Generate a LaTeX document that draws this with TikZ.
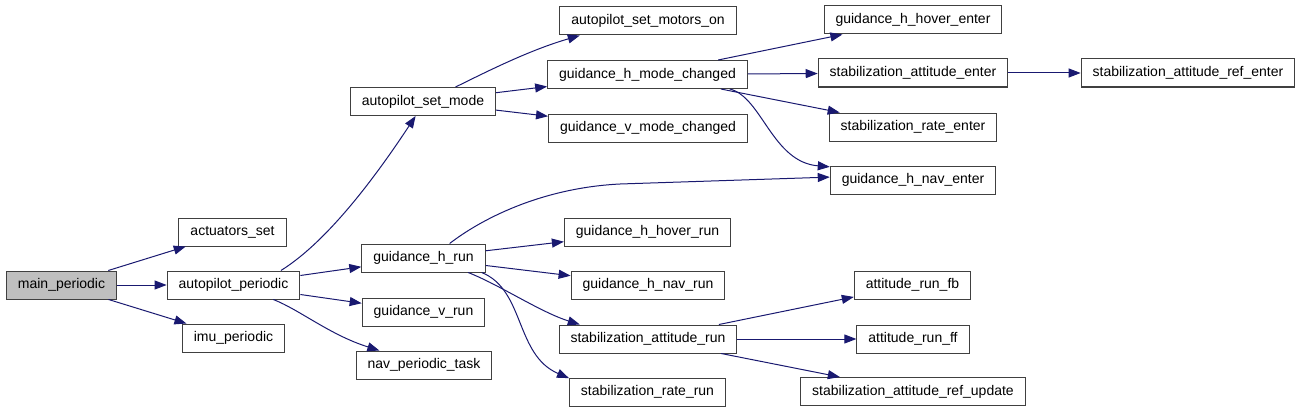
\documentclass[tikz,border=0pt]{standalone}
\usepackage{fontspec}
\setmainfont{Liberation Sans}
\usepackage{tikz}
\usetikzlibrary{arrows.meta}
\definecolor{callblue}{HTML}{191970}
\definecolor{boxline}{HTML}{404040}
\definecolor{rootfill}{HTML}{BFBFBF}

\begin{document}
\begin{tikzpicture}[
  x=1pt, y=-1pt,
  every node/.style={font=\fontsize{14}{16}\selectfont},
  fn/.style={draw=boxline, fill=white, line width=1pt, rectangle,
             minimum height=28pt, inner xsep=11.5pt, inner ysep=0pt},
  root/.style={fn, fill=rootfill},
  call/.style={-{Triangle[length=12pt, width=9pt]}, line width=1pt, color=callblue}
]
  \useasboundingbox (0,0) rectangle (1304,412);

  \node[root] (main)       at (61.5,285) {main\_periodic};
  \node[fn] (actset)       at (232.5,232) {actuators\_set};
  \node[fn] (autoper)      at (233.5,285) {autopilot\_periodic};
  \node[fn] (imuper)       at (233.5,338) {imu\_periodic};
  \node[fn] (setmode)      at (423,101.5) {autopilot\_set\_mode};
  \node[fn] (hrun)         at (423.5,258) {guidance\_h\_run};
  \node[fn] (vrun)         at (423.5,312) {guidance\_v\_run};
  \node[fn] (navtask)      at (424,365)   {nav\_periodic\_task};
  \node[fn] (motorson)     at (648,21)    {autopilot\_set\_motors\_on};
  \node[fn] (hmode)        at (647.5,74.5) {guidance\_h\_mode\_changed};
  \node[fn] (vmode)        at (648,128)   {guidance\_v\_mode\_changed};
  \node[fn] (hoverrun)     at (647.5,232) {guidance\_h\_hover\_run};
  \node[fn] (hnavrun)      at (648,285)   {guidance\_h\_nav\_run};
  \node[fn] (stabattrun)   at (648,339)   {stabilization\_attitude\_run};
  \node[fn] (raterun)      at (647.5,392) {stabilization\_rate\_run};
  \node[fn] (hoverenter)   at (913,20)    {guidance\_h\_hover\_enter};
  \node[fn] (stabattenter) at (913,73)    {stabilization\_attitude\_enter};
  \node[fn] (rateenter)    at (913,127)   {stabilization\_rate\_enter};
  \node[fn] (hnaventer)    at (913,180)   {guidance\_h\_nav\_enter};
  \node[fn] (runfb)        at (912.5,285) {attitude\_run\_fb};
  \node[fn] (runff)        at (913,339)   {attitude\_run\_ff};
  \node[fn] (refupdate)    at (913,391.5) {stabilization\_attitude\_ref\_update};
  \node[fn] (refenter)     at (1188,73)   {stabilization\_attitude\_ref\_enter};

  \draw[call] (main) -- (actset);
  \draw[call] (main) -- (autoper);
  \draw[call] (main) -- (imuper);
  \draw[call] (autoper.17) .. controls (330,240) and (380,170) .. (setmode.243);
  \draw[call] (autoper) -- (hrun);
  \draw[call] (autoper) -- (vrun);
  \draw[call] (autoper.-20) .. controls (300,310) and (330,335) .. (navtask.162);
  \draw[call] (setmode.24) .. controls (490,70) and (530,50) .. (motorson.192);
  \draw[call] (setmode) -- (hmode);
  \draw[call] (setmode) -- (vmode);
  \draw[call] (hmode) -- (hoverenter);
  \draw[call] (hmode) -- (stabattenter);
  \draw[call] (hmode) -- (rateenter);
  \draw[call] (hmode.-10) .. controls (762,97) and (772,162) .. (hnaventer.171);
  \draw[call] (stabattenter) -- (refenter);
  \draw[call] (hrun.29) .. controls (480,220) and (540,188) .. (620,184) -- (hnaventer.178);
  \draw[call] (hrun) -- (hoverrun);
  \draw[call] (hrun) -- (hnavrun);
  \draw[call] (hrun.-18) .. controls (500,285) and (540,312) .. (stabattrun.168);
  \draw[call] (hrun.-14) .. controls (525,290) and (515,355) .. (raterun.170);
  \draw[call] (stabattrun) -- (runfb);
  \draw[call] (stabattrun) -- (runff);
  \draw[call] (stabattrun) -- (refupdate);
\end{tikzpicture}
\end{document}
